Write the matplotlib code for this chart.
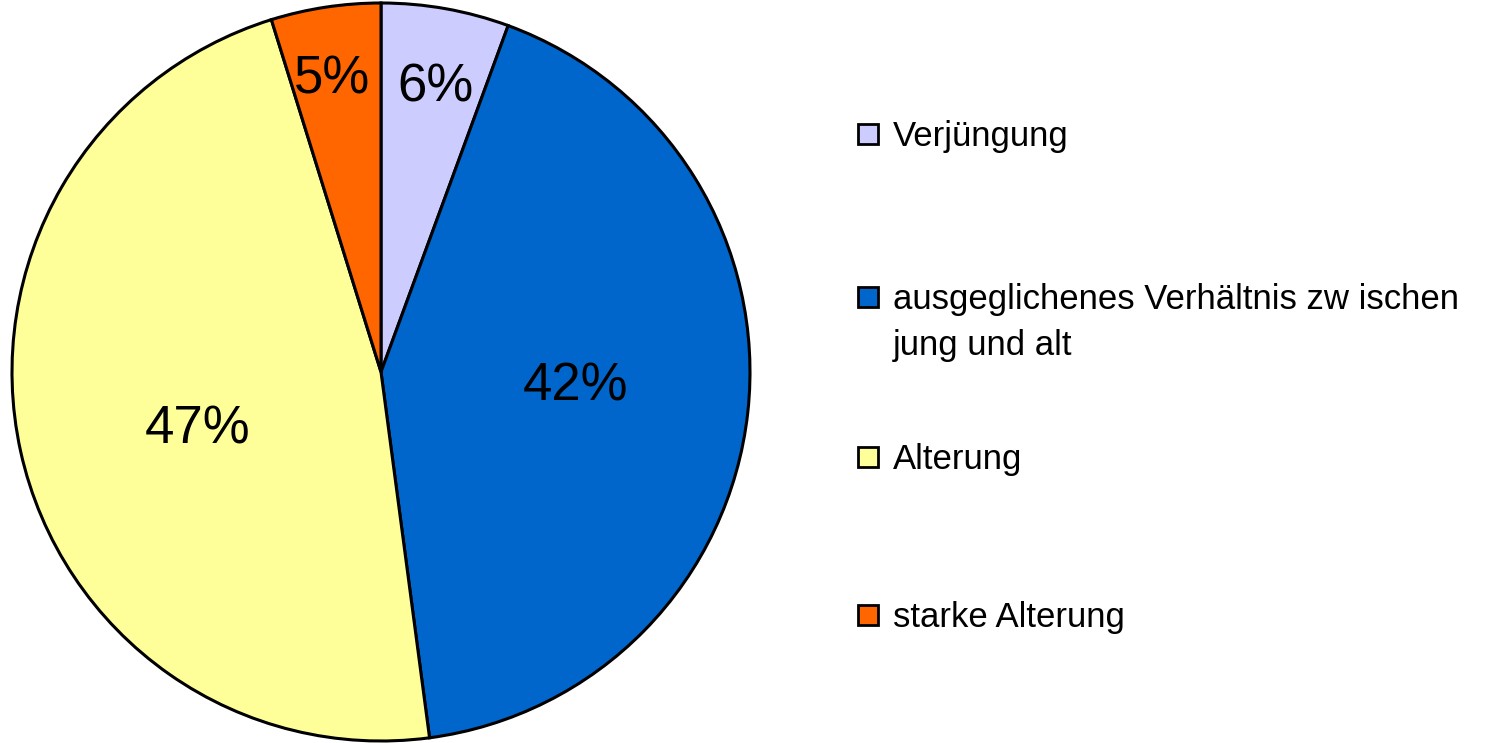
import matplotlib
matplotlib.use("Agg")
import matplotlib.pyplot as plt
from matplotlib.patches import Rectangle

# Data
categories = ["Verjüngung", "ausgeglichenes Verhältnis zw ischen\njung und alt",
              "Alterung", "starke Alterung"]
wedge_sizes = [5.6, 42.3, 47.3, 4.8]
pct_labels = ["6%", "42%", "47%", "5%"]
colors = ["#CCCCFF", "#0066CC", "#FFFF99", "#FF6600"]

plt.rcParams['font.family'] = ['Liberation Sans', 'DejaVu Sans']

W, H = 1493, 743
fig = plt.figure(figsize=(W / 100, H / 100), dpi=100)
fig.patch.set_facecolor("white")

cx, cy, r = 381, 372, 369  # pixel layout of pie
ax = fig.add_axes([(cx - r) / W, (H - cy - r) / H, 2 * r / W, 2 * r / H])
ax.pie(wedge_sizes, colors=colors, startangle=90, counterclock=False, radius=1,
       wedgeprops=dict(edgecolor="black", linewidth=2.2))
ax.set_xlim(-1, 1)
ax.set_ylim(-1, 1)
ax.set_aspect("equal")
ax.axis("off")

# label positions (pixel layout -> data coords)
label_px = [(436, 87), (576, 387), (198, 430), (332, 80)]
for (px, py), txt in zip(label_px, pct_labels):
    ax.text((px - cx) / r, (cy - py) / r, txt, fontsize=38, ha="center", va="center",
            color="black")

# Legend drawn manually
leg_baselines = [146, 309, 469, 627]
line_gap = 46
marker_size = 20
for cat, col, base in zip(categories, colors, leg_baselines):
    mcy = base - 12
    fig.add_artist(Rectangle((858 / W, (H - mcy - marker_size / 2) / H),
                             marker_size / W, marker_size / H,
                             facecolor=col, edgecolor="black", linewidth=2,
                             transform=fig.transFigure))
    for i, line in enumerate(cat.split("\n")):
        fig.text(893 / W, (H - base - i * line_gap) / H, line, fontsize=25,
                 ha="left", va="baseline", color="black")

fig.savefig("out.png", dpi=100, facecolor="white")
